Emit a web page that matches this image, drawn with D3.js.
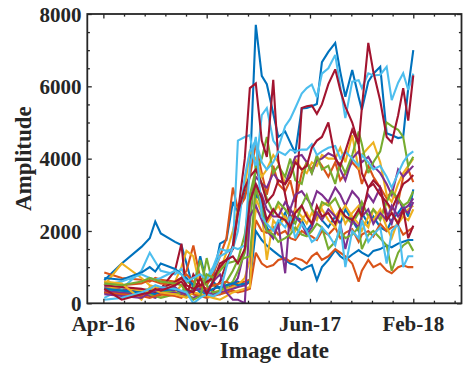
<!DOCTYPE html>
<html>
<head>
<meta charset="utf-8">
<script src="https://cdn.jsdelivr.net/npm/d3@7"></script>
<style>
  html, body { margin: 0; padding: 0; background: #fff; }
  svg { display: block; }
  text { font-family: "Liberation Serif", "Times New Roman", serif; font-weight: bold; fill: #262626; }
</style>
</head>
<body>
<svg id="chart" width="463" height="365"></svg>
<script>
// Acquisition dates shared by every pixel series
const imageDates = [
  "2016-04-05","2016-05-13","2016-06-25","2016-07-13","2016-07-25","2016-08-06",
  "2016-09-06","2016-09-20","2016-10-01","2016-10-16","2016-10-31","2016-11-14",
  "2016-11-28","2016-12-13","2016-12-27","2017-01-10","2017-01-21","2017-02-05",
  "2017-02-16","2017-03-01","2017-03-14","2017-03-25","2017-04-08","2017-04-19",
  "2017-05-04","2017-05-15","2017-05-26","2017-06-09","2017-06-20","2017-07-01",
  "2017-07-12","2017-07-23","2017-08-06","2017-08-21","2017-09-01","2017-09-12",
  "2017-09-27","2017-10-11","2017-10-18","2017-11-01","2017-11-12","2017-11-27",
  "2017-12-11","2017-12-22","2018-01-05","2018-01-16","2018-01-27","2018-02-07"
];

// Amplitude time series, one per pixel
const amp01 = [640,1100,1560,1800,2260,1930,1700,1610,1100,400,1300,550,700,1650,1750,2800,2500,3000,3600,7700,6290,6060,5250,4600,4750,4450,4150,5390,5400,5450,5510,6670,6950,7200,6400,5710,6450,5700,5350,6130,6350,6540,4700,4650,4570,4600,5950,7000];
const amp02 = [850,700,650,600,700,650,600,700,900,1600,700,500,800,1300,1800,3200,2600,2900,3500,4400,3600,3000,3800,3300,3100,3400,2800,3600,3900,3700,4000,3800,3500,3900,3400,3600,3900,3700,3300,3800,3500,3200,2900,3100,2800,3500,3700,3350];
const amp03 = [500,1100,700,500,450,400,600,1000,1450,1300,400,300,600,900,1400,2000,2600,3200,4200,4000,3500,3700,4100,3900,3300,3600,4000,3700,3600,3900,3800,4100,4000,4000,4300,3900,4650,3700,4100,4300,4450,3900,3000,2800,3300,3600,3800,4000];
const amp04 = [450,400,300,350,250,300,350,300,250,400,350,300,250,300,400,500,700,1500,2800,3500,3300,3200,3600,3400,3300,3700,4050,4100,3900,3600,3950,4000,4150,4050,3700,3400,4000,4200,3900,4050,3800,3600,3300,3000,3700,3500,3650,3800];
const amp05 = [300,250,350,400,300,350,300,250,600,500,300,1250,500,400,600,900,1200,1900,3000,3700,4000,4600,3600,3800,3500,4000,3400,3300,3900,3600,4100,3700,3800,3300,3900,3600,4100,4750,4400,3600,3900,4200,5000,4900,4800,4600,3800,4050];
const amp06 = [150,400,900,1400,1150,900,800,950,700,500,400,700,1000,1500,1450,1500,4500,4600,4650,3700,5200,5400,4500,4300,4900,5100,5400,5800,5950,6050,5700,6350,6500,6870,6000,5120,6130,6170,5950,6360,6300,6320,6540,5620,6100,6360,5900,6350];
const amp07 = [300,250,200,300,350,400,900,1650,200,800,500,400,350,600,1100,1600,2500,4000,5950,6080,4500,4050,6180,3950,3000,2300,2600,5400,5450,5470,5240,5500,6060,6470,5900,5440,5000,4400,5400,7200,6400,5600,4600,4450,5200,5950,5050,6300];
const amp08 = [700,650,850,1000,880,1100,950,800,700,500,300,350,600,400,500,550,600,500,600,3000,2800,2100,1800,2200,2500,2000,2400,2300,2000,2200,2500,2300,2100,2400,2200,2600,2300,2000,2500,2200,2400,2100,2000,2300,2500,2700,2400,3150];
const amp09 = [600,500,550,650,600,550,500,700,800,600,450,400,500,550,600,500,550,600,650,2300,2000,1950,2100,1900,2000,1800,1750,2000,1900,1850,1750,2000,1900,2100,1800,1950,2050,1700,1900,2000,1850,2200,2000,2100,2150,1900,2000,2100];
const amp10 = [400,450,350,300,250,200,300,500,400,300,250,200,300,350,400,450,500,700,1200,2600,2400,2200,2500,2700,2300,2000,2600,2400,2200,2500,2300,2700,2800,2400,2600,2200,2500,2700,2300,2100,2600,2400,2800,2500,2200,2400,2300,2600];
const amp11 = [350,300,250,200,150,250,300,250,200,150,250,200,300,250,350,400,450,500,600,3300,3000,2600,2400,2400,2800,2600,3000,3100,2900,2700,3100,3000,2800,3200,3000,2700,3100,2900,2600,3000,2800,3200,2500,2200,2900,2600,2700,2900];
const amp12 = [400,350,300,250,200,150,250,300,200,400,1200,500,300,350,450,600,900,1400,2200,3800,3300,2900,2500,2800,2600,2400,2200,2700,3000,2600,2400,2800,2700,2900,2600,2400,2200,2500,2800,2400,2600,2300,2800,3100,2900,2700,2800,3100];
const amp13 = [500,600,800,700,650,700,900,800,600,700,800,650,900,1300,1400,1500,2000,3500,4200,4500,3900,3700,3900,4200,4100,4250,4200,4250,4250,4400,4100,4200,4300,4350,4000,4200,4000,3800,4100,3900,3700,3800,3500,3200,3600,3900,4100,4200];
const amp14 = [500,450,400,350,300,400,600,700,500,400,500,600,700,1000,1200,1500,2500,3200,3500,3700,3300,2800,3000,3400,3300,3500,3900,3700,3800,4300,4500,4600,5000,4000,3800,4200,4800,4400,3600,3200,3300,3000,2800,2600,3000,3300,3400,3550];
const amp15 = [400,350,300,300,250,350,400,300,350,250,200,300,400,450,500,550,500,550,600,2000,1750,1600,1450,1340,1200,1100,1060,920,1000,1060,640,1000,1200,1470,1300,1200,1350,1470,1400,1300,1450,1500,1600,1550,1650,1700,1750,1750];
const amp16 = [300,250,200,150,200,250,200,150,300,250,200,150,200,250,300,350,300,350,400,1400,1100,1000,1060,1200,1250,1150,1250,1200,1100,1300,1400,1200,1300,1500,1400,1300,1100,600,900,1200,1000,1100,900,830,1000,1050,1000,1000];
const amp17 = [600,550,100,450,350,300,250,200,150,300,250,200,150,100,200,300,350,400,450,2900,2500,1200,2300,2100,2400,2200,2000,2300,2500,2200,2400,2600,2300,2100,2500,2700,2400,2200,2000,2400,2300,2600,2100,1800,2300,2500,2600,2700];
const amp18 = [250,200,150,300,350,400,450,300,250,350,400,300,600,800,300,100,100,0,2400,2700,2300,2000,1800,2200,830,2600,2400,2200,1900,2100,2500,2300,2600,2400,2200,1500,2300,2100,2400,2600,2200,2500,2300,2700,2400,2600,2500,2800];
const amp19 = [550,500,600,700,650,600,550,500,300,100,200,800,700,900,1100,1150,1200,1250,1300,3200,2600,2000,1900,1700,1800,1900,2100,1900,1850,2000,2200,2100,1500,1700,2000,1800,1900,2100,1500,1900,2000,1800,1600,900,1400,1600,1700,1450];
const amp20 = [100,150,300,400,500,450,400,350,300,0,150,250,200,300,1000,1550,1500,1600,3800,4600,2400,2200,2000,2300,2100,2400,1800,2200,2000,1700,1800,2100,1900,1600,2200,1000,2000,1800,2300,1700,1900,2100,1100,2000,2200,1000,1300,1300];
const amp21 = [400,100,250,300,400,350,500,600,400,300,700,250,600,1100,1200,1300,1100,1500,2800,3300,2900,2300,2600,2400,2300,2100,2500,2700,2400,2200,2700,2400,2500,2200,2600,2400,2300,2600,2400,3200,3400,3200,2300,2500,2200,2600,1800,2150];

const allSeries = [amp01, amp02, amp03, amp04, amp05, amp06, amp07, amp08, amp09, amp10, amp11,
                   amp12, amp13, amp14, amp15, amp16, amp17, amp18, amp19, amp20, amp21];

// Axis ticks
const xMajorTicks = ["2016-04-03", "2016-11-14", "2017-06-27", "2018-02-07"];
const xTickLabels = ["Apr-16", "Nov-16", "Jun-17", "Feb-18"];
const xLimits = ["2016-02-28", "2018-05-23"];
const yMajorTicks = [0, 2000, 4000, 6000, 8000];
const yLimits = [0, 8000];

// Line colour order
const colorOrder = ["#0072BD", "#D95319", "#EDB120", "#7E2F8E", "#77AC30", "#4DBEEE", "#A2142F"];

const parse = d3.utcParse("%Y-%m-%d");
const dates = imageDates.map(parse);

const plot = { left: 87.3, right: 461.5, top: 14, bottom: 303.3 };
const axisColor = "#262626";

const x = d3.scaleUtc().domain(xLimits.map(parse)).range([plot.left, plot.right]);
const y = d3.scaleLinear().domain(yLimits).range([plot.bottom, plot.top]);

const svg = d3.select("#chart");

svg.append("defs").append("clipPath").attr("id", "plotClip")
  .append("rect")
  .attr("x", plot.left).attr("y", plot.top)
  .attr("width", plot.right - plot.left).attr("height", plot.bottom - plot.top);

// Data lines
const line = d3.line()
  .x((d, i) => x(dates[i]))
  .y(d => y(d));

svg.append("g").attr("clip-path", "url(#plotClip)")
  .selectAll("path")
  .data(allSeries)
  .join("path")
  .attr("d", line)
  .attr("fill", "none")
  .attr("stroke", (d, i) => colorOrder[i % colorOrder.length])
  .attr("stroke-width", 2.1)
  .attr("stroke-linejoin", "miter")
  .attr("stroke-miterlimit", 3);

// Minor tick positions: five subdivisions per major interval
const majorDates = xMajorTicks.map(parse);
const step = (majorDates[1] - majorDates[0]) / 5;
const xMinor = [];
for (let t = +majorDates[0] - 5 * step; t <= +x.domain()[1]; t += step) {
  if (t >= +x.domain()[0]) xMinor.push(new Date(t));
}
const yMinor = d3.range(0, 8001, 500);

const majorLen = 4.5, minorLen = 2.6;
const isMajorX = d => majorDates.some(m => Math.abs(m - d) < 86400000);

// Bottom and top axes (ticks pointing inward)
const xAxisBottom = d3.axisBottom(x).tickValues(xMinor)
  .tickSizeInner(0).tickSizeOuter(0).tickFormat("");
const gBottom = svg.append("g").attr("transform", `translate(0,${plot.bottom})`).call(xAxisBottom);
gBottom.selectAll(".tick line")
  .attr("y2", d => -(isMajorX(d) ? majorLen : minorLen))
  .attr("stroke", axisColor).attr("stroke-width", 1.3);

const xAxisTop = d3.axisTop(x).tickValues(xMinor)
  .tickSizeInner(0).tickSizeOuter(0).tickFormat("");
const gTop = svg.append("g").attr("transform", `translate(0,${plot.top})`).call(xAxisTop);
gTop.selectAll(".tick line")
  .attr("y2", d => (isMajorX(d) ? majorLen : minorLen))
  .attr("stroke", axisColor).attr("stroke-width", 1.3);

// Left and right axes
const yAxisLeft = d3.axisLeft(y).tickValues(yMinor)
  .tickSizeInner(0).tickSizeOuter(0).tickFormat("");
const gLeft = svg.append("g").attr("transform", `translate(${plot.left},0)`).call(yAxisLeft);
gLeft.selectAll(".tick line")
  .attr("x2", d => (d % 2000 === 0 ? majorLen : minorLen))
  .attr("stroke", axisColor).attr("stroke-width", 1.3);

const yAxisRight = d3.axisRight(y).tickValues(yMinor)
  .tickSizeInner(0).tickSizeOuter(0).tickFormat("");
const gRight = svg.append("g").attr("transform", `translate(${plot.right},0)`).call(yAxisRight);
gRight.selectAll(".tick line")
  .attr("x2", d => -(d % 2000 === 0 ? majorLen : minorLen))
  .attr("stroke", axisColor).attr("stroke-width", 1.3);

svg.selectAll(".domain").remove();

// Axes box
svg.append("rect")
  .attr("x", plot.left).attr("y", plot.top)
  .attr("width", plot.right - plot.left).attr("height", plot.bottom - plot.top)
  .attr("fill", "none").attr("stroke", axisColor).attr("stroke-width", 1.8);

// Tick labels
svg.append("g").selectAll("text")
  .data(majorDates)
  .join("text")
  .attr("x", d => x(d))
  .attr("y", 330.5)
  .attr("text-anchor", "middle")
  .attr("font-size", 21)
  .text((d, i) => xTickLabels[i]);

svg.append("g").selectAll("text")
  .data(yMajorTicks)
  .join("text")
  .attr("x", plot.left - 5.8)
  .attr("y", d => y(d) + 7.6)
  .attr("text-anchor", "end")
  .attr("font-size", 21)
  .text(d => d);

// Axis titles
svg.append("text")
  .attr("x", (plot.left + plot.right) / 2)
  .attr("y", 358)
  .attr("text-anchor", "middle")
  .attr("font-size", 23)
  .text("Image date");

svg.append("text")
  .attr("transform", `translate(30.5,${(plot.top + plot.bottom) / 2}) rotate(-90)`)
  .attr("text-anchor", "middle")
  .attr("font-size", 23)
  .text("Amplitude");
</script>
</body>
</html>
